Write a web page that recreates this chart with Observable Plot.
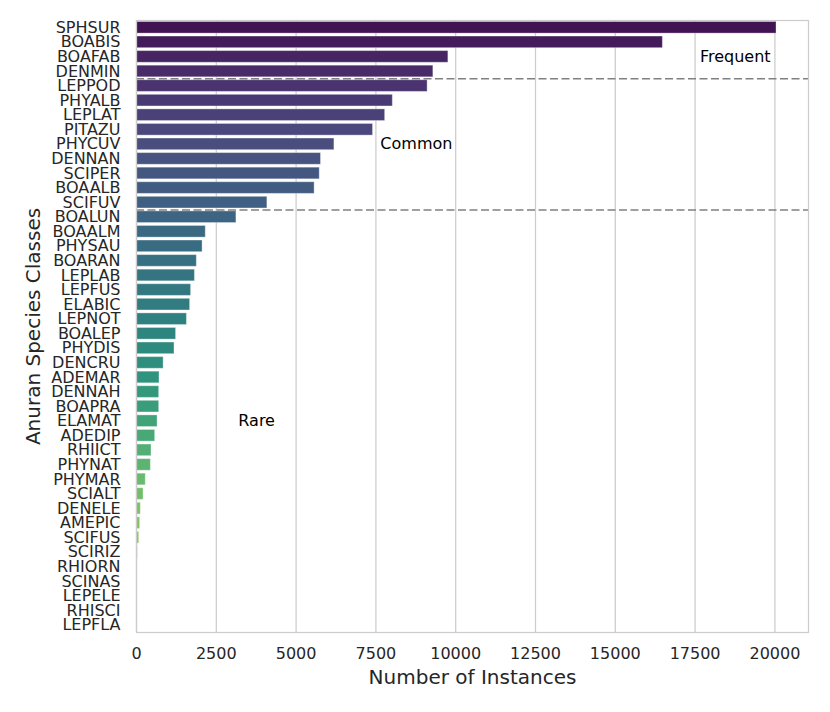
<!DOCTYPE html>
<html>
<head>
<meta charset="utf-8">
<script src="https://cdn.jsdelivr.net/npm/d3@7"></script>
<script src="https://cdn.jsdelivr.net/npm/@observablehq/plot@0.6"></script>
<style>
  html, body { margin: 0; padding: 0; background: #fff; }
  svg { font-family: "DejaVu Sans", sans-serif; }
</style>
</head>
<body>
<div id="chart"></div>
<script>
const species = ["SPHSUR","BOABIS","BOAFAB","DENMIN","LEPPOD","PHYALB","LEPLAT","PITAZU","PHYCUV","DENNAN","SCIPER","BOAALB","SCIFUV","BOALUN","BOAALM","PHYSAU","BOARAN","LEPLAB","LEPFUS","ELABIC","LEPNOT","BOALEP","PHYDIS","DENCRU","ADEMAR","DENNAH","BOAPRA","ELAMAT","ADEDIP","RHIICT","PHYNAT","PHYMAR","SCIALT","DENELE","AMEPIC","SCIFUS","SCIRIZ","RHIORN","SCINAS","LEPELE","RHISCI","LEPFLA"];
const instances = [20050,16490,9770,9300,9120,8030,7790,7410,6200,5780,5740,5580,4100,3130,2170,2070,1890,1830,1710,1680,1580,1240,1190,850,720,710,710,660,585,470,450,290,220,135,115,85,40,12,9,6,4,2];
const xTicks = [0,2500,5000,7500,10000,12500,15000,17500,20000];
const groupBoundaries = [3.5, 12.5];
const groupLabels = ["Frequent","Common","Rare"];
const groupLabelX = [17650, 7640, 3190];
const groupLabelRow = [2, 8, 27];

const data = species.map((s, i) => ({species: s, value: instances[i], i}));
const annotations = groupLabels.map((t, k) => ({text: t, x: groupLabelX[k], y: groupLabelRow[k]}));

// seaborn-like viridis palette, desaturated to 0.75
const n = species.length;
const colors = species.map((_, i) => {
  const c = d3.hsl(d3.interpolateViridis((i + 1) / (n + 1)));
  c.s *= 0.75;
  return c.formatHex();
});

const chart = Plot.plot({
  width: 830,
  height: 712,
  marginLeft: 136,
  marginRight: 22,
  marginTop: 20,
  marginBottom: 80,
  style: {fontFamily: "DejaVu Sans, sans-serif", background: "#fff"},
  x: {domain: [0, d3.max(instances) * 1.05]},
  y: {domain: [n - 0.5, -0.5]},
  color: {domain: species, range: colors},
  marks: [
    Plot.gridX(xTicks, {stroke: "#cccccc", strokeOpacity: 1, strokeWidth: 1.25}),
    Plot.rectX(data, {
      x: "value",
      y1: d => d.i - 0.4,
      y2: d => d.i + 0.4,
      fill: "species",
      stroke: "white",
      strokeOpacity: 0.35,
      strokeWidth: 1
    }),
    Plot.ruleY(groupBoundaries, {stroke: "#808080", strokeWidth: 1.5, strokeDasharray: "8,3.5"}),
    Plot.text(annotations, {x: "x", y: "y", text: "text", textAnchor: "start", fontSize: 16, fill: "black"}),
    Plot.axisX(xTicks, {tickSize: 0, tickPadding: 15, fontSize: 16, fill: "#262626", label: null, tickFormat: d3.format("d")}),
    Plot.axisY(d3.range(n), {tickSize: 0, tickPadding: 16, fontSize: 16, fill: "#262626", label: null, tickFormat: i => species[i]}),
    Plot.text(["Number of Instances"], {frameAnchor: "bottom", dy: 45, lineAnchor: "middle", fontSize: 20, fill: "#262626"}),
    Plot.text(["Anuran Species Classes"], {frameAnchor: "left", dx: -103, rotate: -90, lineAnchor: "middle", textAnchor: "middle", fontSize: 20, fill: "#262626"}),
    Plot.frame({stroke: "#cccccc", strokeWidth: 1.25})
  ]
});
document.getElementById("chart").appendChild(chart);
</script>
</body>
</html>
